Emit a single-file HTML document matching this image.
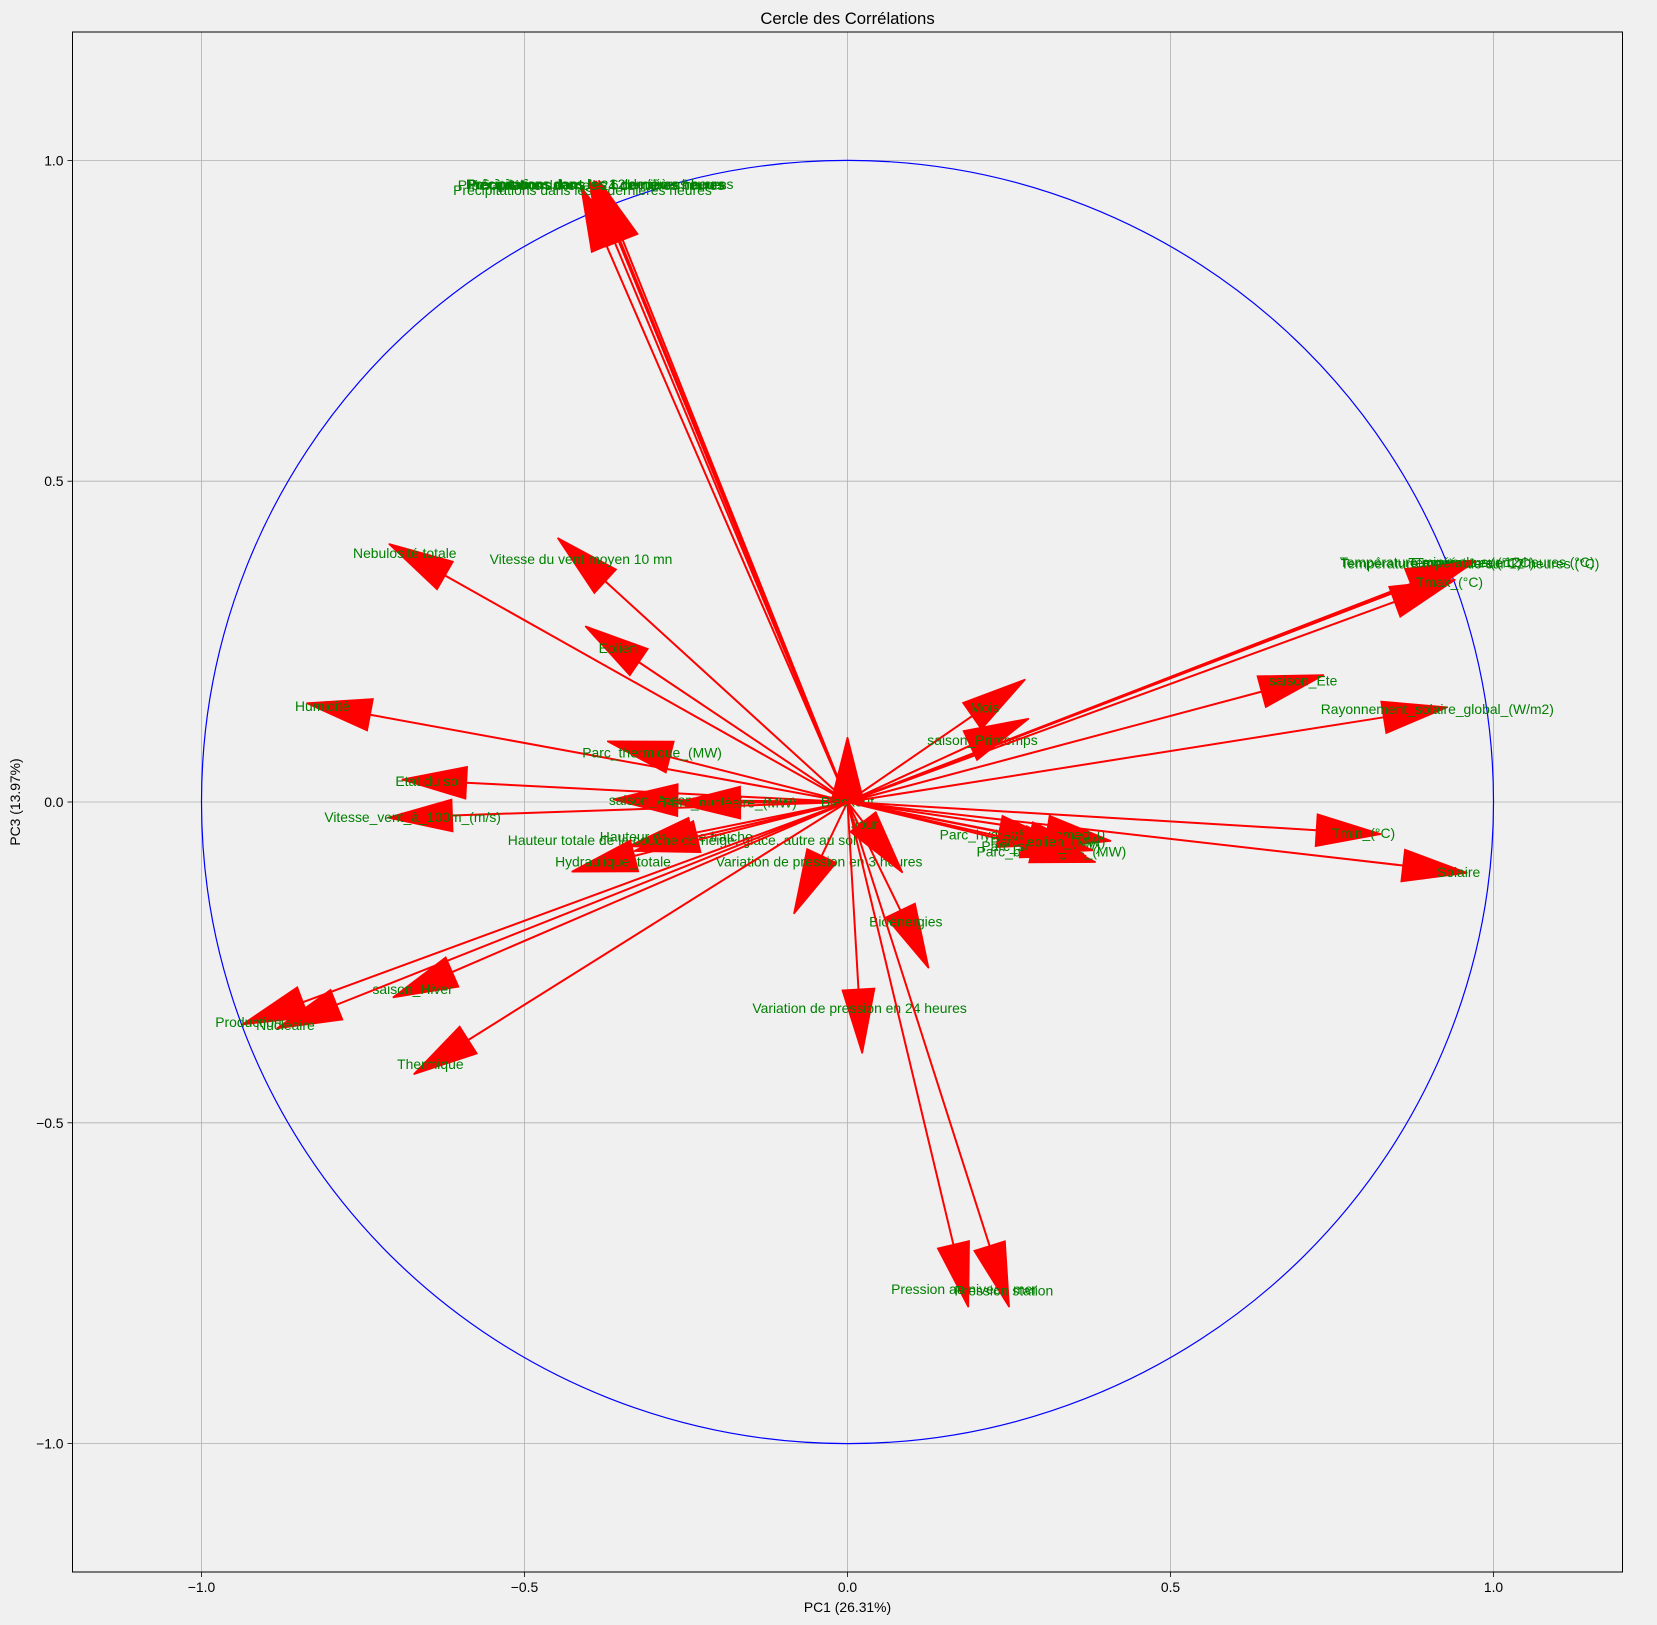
<!DOCTYPE html>
<html><head><meta charset="utf-8"><style>
html,body{margin:0;padding:0;background:#f0f0f0;}
svg{display:block;font-family:"Liberation Sans","DejaVu Sans",sans-serif;}
</style></head><body>
<svg id="chart" width="1657" height="1625" viewBox="0 0 1657 1625" xmlns="http://www.w3.org/2000/svg">
<rect width="1657" height="1625" fill="#f0f0f0"/>
<g id="grid"></g>
<g id="plot"></g>
<g id="axes"></g>
<text x="847.5" y="24" text-anchor="middle" font-size="16.7" fill="#000">Cercle des Corrélations</text>
<text x="847.5" y="1612" text-anchor="middle" font-size="13.9" fill="#000">PC1 (26.31%)</text>
<text x="20" y="802" text-anchor="middle" font-size="13.9" fill="#000" transform="rotate(-90 20 802)">PC3 (13.97%)</text>
</svg>
<script>
const variables = ["Précipitations dans les 1 dernières heures","Précipitations dans les 3 dernières heures","Précipitations dans les 6 dernières heures","Précipitations dans les 12 dernières heures","Précipitations dans les 24 dernières heures","Nebulosité totale","Vitesse du vent moyen 10 mn","Eolien","Humidité","Parc_thermique_(MW)","Etat du sol","saison_Automne","Parc_nucléaire_(MW)","Vitesse_vent_à_100m_(m/s)","Hauteur de neige fraîche","Hauteur totale de la couche de neige, glace, autre au sol","Hydraulique_totale","Variation de pression en 3 heures","Blackout","Jour","saison_Hiver","Production","Nucléaire","Thermique","Bioénergies","Variation de pression en 24 heures","Pression au niveau mer","Pression station","Mois","saison_Printemps","Parc_hydraulique_(MW)","Unnamed: 0","Parc_bioénergies_(MW)","Parc_solaire_(MW)","Parc_eolien_(MW)","Tmin_(°C)","Solaire","saison_Ete","Rayonnement_solaire_global_(W/m2)","Température (°C)","Température minimale sur 12 heures (°C)","Température maximale sur 12 heures (°C)","Température (en °C)","Tmax_(°C)"];
const pc1 = [-0.355,-0.373,-0.352,-0.348,-0.361,-0.623,-0.375,-0.323,-0.739,-0.275,-0.590,-0.263,-0.166,-0.612,-0.241,-0.233,-0.330,-0.040,0.0,0.024,-0.612,-0.843,-0.791,-0.587,0.082,0.017,0.164,0.220,0.193,0.190,0.235,0.309,0.287,0.272,0.282,0.726,0.860,0.641,0.830,0.874,0.872,0.876,0.878,0.847];
const pc3 = [0.876,0.867,0.875,0.876,0.874,0.353,0.344,0.218,0.136,0.070,0.030,0.003,-0.001,-0.021,-0.049,-0.054,-0.084,-0.084,0.001,-0.031,-0.265,-0.312,-0.316,-0.371,-0.169,-0.292,-0.690,-0.692,0.134,0.088,-0.046,-0.046,-0.070,-0.062,-0.056,-0.044,-0.099,0.172,0.132,0.339,0.340,0.338,0.339,0.312];
const xTicks = [-1.0,-0.5,0.0,0.5,1.0];
const yTicks = [-1.0,-0.5,0.0,0.5,1.0];
const xTickLabels = ["−1.0","−0.5","0.0","0.5","1.0"];
const yTickLabels = ["−1.0","−0.5","0.0","0.5","1.0"];

const NS="http://www.w3.org/2000/svg";
const X0=847.5, UX=646, Y0=802, UY=641.6;
const L=72.5, R=1622.5, T=32, B=1572;
function sx(v){return X0+v*UX;}
function sy(v){return Y0-v*UY;}
function mk(tag,attrs,parent){const e=document.createElementNS(NS,tag);for(const k in attrs)e.setAttribute(k,attrs[k]);parent.appendChild(e);return e;}
const grid=document.getElementById('grid'), plot=document.getElementById('plot'), axes=document.getElementById('axes');

xTicks.forEach((t,i)=>{
  const g=mk('line',{x1:sx(t),x2:sx(t),y1:T,y2:B,stroke:'#b0b0b0','stroke-width':0.8},grid);
  
  
  const tk=mk('line',{x1:sx(t),x2:sx(t),y1:B,y2:B+5,stroke:'#000','stroke-width':0.8},axes);
  
  
  const tl=mk('text',{x:sx(t),y:B+20,'text-anchor':'middle','font-size':13.9,fill:'#000'},axes);
  tl.textContent=xTickLabels[i];
  
  
});
yTicks.forEach((t,i)=>{
  const g=mk('line',{x1:L,x2:R,y1:sy(t),y2:sy(t),stroke:'#b0b0b0','stroke-width':0.8},grid);
  
  
  const tk=mk('line',{x1:L-5,x2:L,y1:sy(t),y2:sy(t),stroke:'#000','stroke-width':0.8},axes);
  
  
  const tl=mk('text',{x:L-9,y:sy(t)+5,'text-anchor':'end','font-size':13.9,fill:'#000'},axes);
  tl.textContent=yTickLabels[i];
  
  
});
const frame=mk('rect',{x:L,y:T,width:R-L,height:B-T,fill:'none',stroke:'#000','stroke-width':1},axes);



const circ=mk('ellipse',{cx:sx(0),cy:sy(0),rx:UX,ry:UY,fill:'none',stroke:'#0000ff','stroke-width':1.2},plot);



const HW=0.05, HL=0.1;
variables.forEach((name,i)=>{
  const x=pc1[i], y=pc3[i];
  let len=Math.hypot(x,y); let dx=0, dy=1;
  if(len>1e-9){dx=x/len; dy=y/len;}
  const px=-dy, py=dx;
  const g=mk('g',{},plot);
  
  
  mk('line',{x1:sx(0),y1:sy(0),x2:sx(x),y2:sy(y),stroke:'#ff0000','stroke-width':2},g);
  const tx=x+dx*HL, ty=y+dy*HL;
  const b1x=x+px*HW/2, b1y=y+py*HW/2, b2x=x-px*HW/2, b2y=y-py*HW/2;
  mk('polygon',{points:`${sx(b1x)},${sy(b1y)} ${sx(tx)},${sy(ty)} ${sx(b2x)},${sy(b2y)}`,fill:'#ff0000',stroke:'#ff0000','stroke-width':1.5,'stroke-linejoin':'miter'},g);
  const t=mk('text',{x:sx(x*1.1),y:sy(y*1.1)+5,'text-anchor':'middle','font-size':13.9,fill:'#008000'},plot);
  t.textContent=name;
  
  
});
</script>
</body></html>
